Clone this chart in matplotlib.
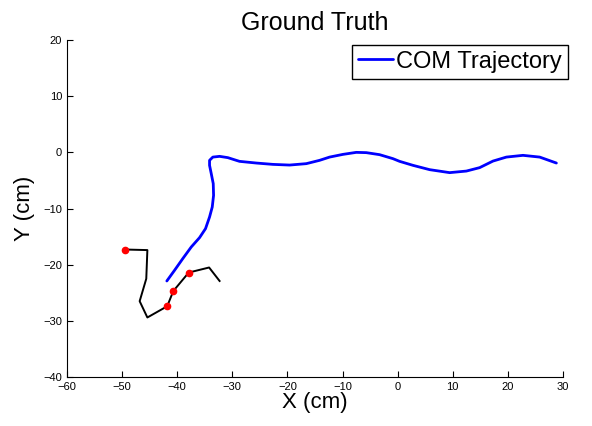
import numpy as np
import matplotlib.pyplot as plt

plt.rcParams['font.family'] = ['Liberation Sans', 'DejaVu Sans']

# center of mass trajectory (cm)
com_x = [-41.87, -40.47, -38.97, -37.44, -35.93, -34.85, -34.12, -33.63, -33.39, -33.45,
         -33.81, -34.12, -34.12, -33.52, -32.30, -30.80, -29.27, -28.68, -25.64, -22.63,
         -19.60, -16.57, -14.16, -12.34, -9.93, -7.50, -5.68, -3.27, -0.85, 0.36,
         2.78, 5.81, 9.44, 12.47, 14.88, 17.30, 19.73, 22.74, 25.77, 28.80]
com_y = [-22.90, -21.00, -18.91, -16.85, -15.18, -13.58, -11.51, -9.73, -7.65, -5.57,
         -3.79, -2.31, -1.42, -0.84, -0.71, -0.94, -1.42, -1.60, -1.90, -2.14,
         -2.26, -2.01, -1.42, -0.84, -0.36, 0.00, -0.05, -0.41, -1.12, -1.60,
         -2.31, -3.08, -3.61, -3.33, -2.72, -1.55, -0.84, -0.53, -0.84, -1.90]

# skeleton segments
skel_x = [-49.4, -45.4, -45.6, -46.8, -45.4, -41.8, -40.7, -37.9, -34.2, -32.3]
skel_y = [-17.3, -17.4, -22.5, -26.5, -29.4, -27.4, -24.7, -21.4, -20.5, -22.9]
joint_idx = [0, 5, 6, 7]

fig = plt.figure(figsize=(5.92, 4.26), dpi=100)
ax = fig.add_axes([0.113, 0.115, 0.838, 0.791])

ax.plot(com_x, com_y, color='#0000ff', linewidth=2.0, label='COM Trajectory',
        solid_joinstyle='round', solid_capstyle='round')
ax.plot(skel_x, skel_y, color='black', linewidth=1.4)
ax.plot([skel_x[i] for i in joint_idx], [skel_y[i] for i in joint_idx],
        linestyle='none', marker='o', markersize=4.5, color='red', markeredgecolor='red')

ax.set_xlim(-60, 30)
ax.set_ylim(-40, 20)
ax.set_xticks(np.arange(-60, 31, 10))
ax.set_yticks(np.arange(-40, 21, 10))
ax.tick_params(direction='in', labelsize=8, length=4)
ax.spines['top'].set_visible(False)
ax.spines['right'].set_visible(False)

ax.set_title('Ground Truth', fontsize=18, pad=7)
ax.set_xlabel('X (cm)', fontsize=16, labelpad=0)
ax.set_ylabel('Y (cm)', fontsize=16, labelpad=6)

leg = ax.legend(loc='upper right', fontsize=17, fancybox=False, framealpha=1,
                edgecolor='black', handlelength=1.45, handletextpad=0.15,
                borderpad=0.25, borderaxespad=0.2,
                bbox_to_anchor=(1.019, 1.0))
leg.get_frame().set_linewidth(1.0)

fig.savefig('out.png', dpi=100)
